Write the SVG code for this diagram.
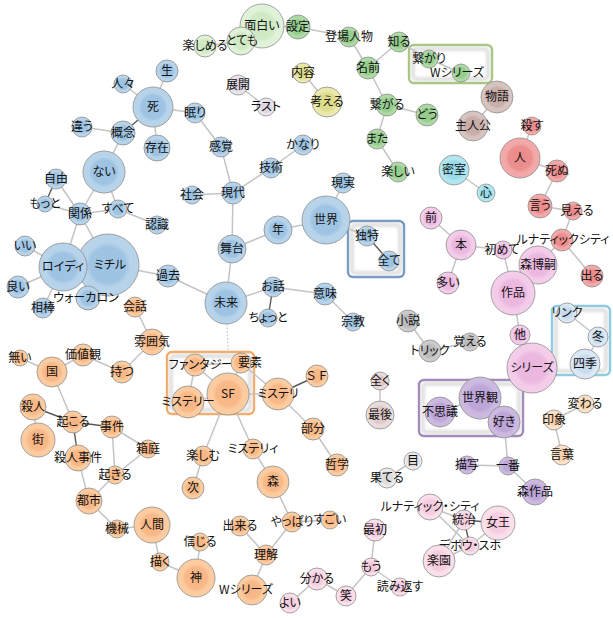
<svg xmlns="http://www.w3.org/2000/svg" width="613" height="618" viewBox="0 0 613 618">
<defs>
<radialGradient id="gBlue"><stop offset="0" stop-color="#9cc2e2"/><stop offset="0.58" stop-color="#9fc4e3"/><stop offset="0.72" stop-color="#b6d3ea"/><stop offset="1" stop-color="#b8d4eb"/></radialGradient>
<radialGradient id="gLGreen"><stop offset="0" stop-color="#cde9c2"/><stop offset="0.58" stop-color="#d0eac6"/><stop offset="0.72" stop-color="#dff2d7"/><stop offset="1" stop-color="#e0f3d8"/></radialGradient>
<radialGradient id="gGreen"><stop offset="0" stop-color="#94cc8c"/><stop offset="0.58" stop-color="#98ce90"/><stop offset="0.72" stop-color="#abd9a3"/><stop offset="1" stop-color="#add9a5"/></radialGradient>
<radialGradient id="gYellow"><stop offset="0" stop-color="#dcdc88"/><stop offset="0.58" stop-color="#dedd8e"/><stop offset="0.72" stop-color="#eae8aa"/><stop offset="1" stop-color="#ebe9ad"/></radialGradient>
<radialGradient id="gLav"><stop offset="0" stop-color="#ddd4e0"/><stop offset="0.58" stop-color="#dfd7e2"/><stop offset="0.72" stop-color="#e9e3eb"/><stop offset="1" stop-color="#ebe5ed"/></radialGradient>
<radialGradient id="gBrown"><stop offset="0" stop-color="#c6aaa6"/><stop offset="0.58" stop-color="#c9aeaa"/><stop offset="0.72" stop-color="#d6c2be"/><stop offset="1" stop-color="#d8c5c1"/></radialGradient>
<radialGradient id="gRed"><stop offset="0" stop-color="#ea8a8a"/><stop offset="0.58" stop-color="#ec8f8f"/><stop offset="0.72" stop-color="#f2a7a7"/><stop offset="1" stop-color="#f3aaaa"/></radialGradient>
<radialGradient id="gCyan"><stop offset="0" stop-color="#96dae8"/><stop offset="0.58" stop-color="#9cdcea"/><stop offset="0.72" stop-color="#b0e6f0"/><stop offset="1" stop-color="#b3e7f1"/></radialGradient>
<radialGradient id="gPink"><stop offset="0" stop-color="#eab4de"/><stop offset="0.58" stop-color="#ecb9e0"/><stop offset="0.72" stop-color="#f3cbe9"/><stop offset="1" stop-color="#f4ceea"/></radialGradient>
<radialGradient id="gLBlue"><stop offset="0" stop-color="#c6daee"/><stop offset="0.58" stop-color="#c9dcef"/><stop offset="0.72" stop-color="#dae7f5"/><stop offset="1" stop-color="#dce8f5"/></radialGradient>
<radialGradient id="gGray"><stop offset="0" stop-color="#b8b8b8"/><stop offset="0.58" stop-color="#bcbcbc"/><stop offset="0.72" stop-color="#cbcbcb"/><stop offset="1" stop-color="#cdcdcd"/></radialGradient>
<radialGradient id="gBeige"><stop offset="0" stop-color="#dcc6c6"/><stop offset="0.58" stop-color="#dfcaca"/><stop offset="0.72" stop-color="#eadbdb"/><stop offset="1" stop-color="#ebdddd"/></radialGradient>
<radialGradient id="gPurple"><stop offset="0" stop-color="#baa2d6"/><stop offset="0.58" stop-color="#bea7d8"/><stop offset="0.72" stop-color="#cbb8e0"/><stop offset="1" stop-color="#cdbbe1"/></radialGradient>
<radialGradient id="gOrange"><stop offset="0" stop-color="#f8b583"/><stop offset="0.58" stop-color="#f9b988"/><stop offset="0.72" stop-color="#fccb9f"/><stop offset="1" stop-color="#fccda2"/></radialGradient>
<radialGradient id="gPeach"><stop offset="0" stop-color="#fad2ae"/><stop offset="0.58" stop-color="#fbd5b3"/><stop offset="0.72" stop-color="#fde1c8"/><stop offset="1" stop-color="#fde3cb"/></radialGradient>
<radialGradient id="gLGray"><stop offset="0" stop-color="#dcdcdc"/><stop offset="0.58" stop-color="#dedede"/><stop offset="0.72" stop-color="#eaeaea"/><stop offset="1" stop-color="#ececec"/></radialGradient>
<radialGradient id="gLPink"><stop offset="0" stop-color="#f5cade"/><stop offset="0.58" stop-color="#f6cee1"/><stop offset="0.72" stop-color="#fadeea"/><stop offset="1" stop-color="#fbe0ec"/></radialGradient>
<filter id="blur" x="-20%" y="-20%" width="140%" height="140%"><feGaussianBlur stdDeviation="1.6"/></filter>
</defs>
<style>
circle{stroke:#8f8f8f;stroke-width:1;stroke-opacity:0.8}
.blue{fill:url(#gBlue)}.lgreen{fill:url(#gLGreen)}.green{fill:url(#gGreen)}.yellow{fill:url(#gYellow)}
.lav{fill:url(#gLav)}.brown{fill:url(#gBrown)}.red{fill:url(#gRed)}.cyan{fill:url(#gCyan)}
.pink{fill:url(#gPink)}.lblue{fill:url(#gLBlue)}.gray{fill:url(#gGray)}.beige{fill:url(#gBeige)}
.purple{fill:url(#gPurple)}.orange{fill:url(#gOrange)}.peach{fill:url(#gPeach)}.lgray{fill:url(#gLGray)}.lpink{fill:url(#gLPink)}
text{font-family:"Noto Sans CJK JP","Noto Sans",sans-serif;font-size:12px;fill:#111;text-anchor:middle;font-feature-settings:"palt" 1}
text.fw{font-feature-settings:normal}
#edges line{stroke:#c4c4c4;stroke-width:1.5}
#edges line.d{stroke:#5a5a5a;stroke-width:1.4}
#edges line.dot{stroke:#c8c8c8;stroke-width:1.3;stroke-dasharray:1.5 2}
.box{fill:#fff;stroke-width:2.4}
.bsh{fill:none;stroke:#dcdcdc;stroke-width:3.5;filter:url(#blur)}
</style>
<rect width="613" height="618" fill="#fff"/>
<g id="boxes">
<rect class="box" x="409" y="45" width="83" height="38" rx="5" stroke="#a6c67e"/><rect class="bsh" x="413" y="49" width="75" height="30" rx="3"/>
<rect class="box" x="348" y="221" width="56" height="56" rx="5" stroke="#7398c0"/><rect class="bsh" x="352" y="225" width="48" height="48" rx="3"/>
<rect class="box" x="167" y="352" width="87" height="62" rx="5" stroke="#f4aa66"/><rect class="bsh" x="171" y="356" width="79" height="54" rx="3"/>
<rect class="box" x="552" y="306" width="58" height="69" rx="5" stroke="#8ccae2"/><rect class="bsh" x="556" y="310" width="50" height="61" rx="3"/>
<rect class="box" x="419" y="380" width="104" height="56" rx="5" stroke="#9e86ba"/><rect class="bsh" x="423" y="384" width="96" height="48" rx="3"/>
</g>
<g id="edges">
<line x1="205" y1="46" x2="241" y2="41"/><line x1="241" y1="41" x2="262" y2="26"/><line x1="262" y1="26" x2="298" y2="27"/>
<line x1="298" y1="27" x2="349" y2="37"/><line x1="349" y1="37" x2="368" y2="68"/><line x1="368" y1="68" x2="399" y2="42"/>
<line x1="368" y1="68" x2="387" y2="105"/><line x1="387" y1="105" x2="377" y2="139"/><line x1="387" y1="105" x2="427" y2="115"/>
<line x1="377" y1="139" x2="398" y2="172"/><line x1="399" y1="42" x2="429" y2="59"/><line x1="429" y1="59" x2="461" y2="73"/>
<line x1="303" y1="73" x2="327" y2="102"/><line x1="238" y1="85" x2="266" y2="107"/><line x1="497" y1="97" x2="473" y2="126"/>
<line x1="532" y1="126" x2="520" y2="158"/><line x1="520" y1="158" x2="557" y2="171"/><line x1="557" y1="171" x2="540" y2="206"/>
<line x1="540" y1="206" x2="573" y2="211"/><line x1="573" y1="211" x2="562" y2="240"/><line x1="562" y1="240" x2="592" y2="276"/>
<line x1="562" y1="240" x2="538" y2="265"/>
<line x1="454" y1="170" x2="486" y2="193"/><line x1="431" y1="218" x2="461" y2="245"/><line x1="461" y1="245" x2="448" y2="283"/>
<line x1="461" y1="245" x2="503" y2="250"/><line x1="503" y1="250" x2="513" y2="293"/><line x1="513" y1="293" x2="520" y2="335"/>
<line x1="520" y1="335" x2="532" y2="368"/><line x1="567" y1="313" x2="598" y2="337"/><line x1="598" y1="337" x2="585" y2="364"/>
<line x1="480" y1="398" x2="440" y2="412"/><line x1="480" y1="398" x2="504" y2="422"/><line x1="504" y1="422" x2="508" y2="466"/>
<line x1="467" y1="465" x2="508" y2="466"/><line x1="508" y1="466" x2="535" y2="492"/><line x1="554" y1="420" x2="585" y2="404"/>
<line x1="554" y1="420" x2="562" y2="455"/><line x1="408" y1="321" x2="430" y2="351"/><line x1="430" y1="351" x2="470" y2="342"/>
<line x1="380" y1="381" x2="380" y2="415"/><line x1="413" y1="461" x2="387" y2="478"/>
<line x1="430" y1="507" x2="464" y2="520"/><line x1="430" y1="507" x2="470" y2="546"/><line x1="464" y1="520" x2="439" y2="561"/>
<line class="d" x1="464" y1="520" x2="498" y2="523"/><line class="d" x1="464" y1="520" x2="470" y2="546"/><line x1="498" y1="523" x2="470" y2="546"/>
<line x1="470" y1="546" x2="439" y2="561"/><line x1="375" y1="530" x2="371" y2="567"/><line x1="371" y1="567" x2="400" y2="587"/>
<line x1="371" y1="567" x2="346" y2="596"/><line x1="346" y1="596" x2="317" y2="579"/><line x1="317" y1="579" x2="290" y2="603"/>
<line x1="123" y1="84" x2="153" y2="107"/><line x1="167" y1="71" x2="153" y2="107"/><line x1="153" y1="107" x2="195" y2="113"/>
<line class="d" x1="153" y1="107" x2="123" y2="133"/><line x1="153" y1="107" x2="157" y2="148"/><line x1="82" y1="127" x2="123" y2="133"/>
<line x1="123" y1="133" x2="104" y2="172"/><line x1="195" y1="113" x2="221" y2="147"/><line x1="221" y1="147" x2="233" y2="193"/>
<line x1="233" y1="193" x2="192" y2="195"/><line x1="233" y1="193" x2="271" y2="168"/><line x1="271" y1="168" x2="303" y2="145"/>
<line x1="233" y1="193" x2="232" y2="249"/><line x1="232" y1="249" x2="278" y2="230"/><line x1="278" y1="230" x2="326" y2="220"/>
<line x1="326" y1="220" x2="343" y2="183"/><line x1="326" y1="220" x2="367" y2="236"/><line class="d" x1="367" y1="236" x2="389" y2="261"/>
<line x1="232" y1="249" x2="226" y2="303"/><line x1="226" y1="303" x2="273" y2="287"/><line class="d" x1="273" y1="287" x2="268" y2="318"/>
<line x1="273" y1="287" x2="325" y2="294"/><line x1="325" y1="294" x2="353" y2="322"/><line x1="226" y1="303" x2="168" y2="276"/>
<line x1="168" y1="276" x2="108" y2="265"/><line x1="104" y1="172" x2="80" y2="214"/><line x1="104" y1="172" x2="118" y2="209"/>
<line x1="56" y1="179" x2="80" y2="214"/><line class="d" x1="56" y1="179" x2="45" y2="204"/><line x1="45" y1="204" x2="80" y2="214"/>
<line x1="80" y1="214" x2="118" y2="209"/><line x1="118" y1="209" x2="157" y2="225"/><line x1="80" y1="214" x2="108" y2="265"/>
<line x1="80" y1="214" x2="63" y2="267"/><line x1="63" y1="267" x2="25" y2="246"/><line x1="63" y1="267" x2="18" y2="287"/>
<line x1="63" y1="267" x2="43" y2="308"/><line x1="63" y1="267" x2="108" y2="265"/><line x1="108" y1="265" x2="85" y2="298"/>
<line x1="135" y1="307" x2="152" y2="342"/><line x1="152" y1="342" x2="122" y2="372"/><line x1="122" y1="372" x2="83" y2="355"/>
<line x1="83" y1="355" x2="52" y2="372"/><line x1="52" y1="372" x2="20" y2="358"/><line x1="52" y1="372" x2="73" y2="422"/>
<line class="d" x1="33" y1="407" x2="73" y2="422"/><line x1="33" y1="407" x2="38" y2="440"/><line class="d" x1="73" y1="422" x2="112" y2="427"/>
<line class="d" x1="73" y1="422" x2="78" y2="458"/><line x1="112" y1="427" x2="148" y2="449"/><line x1="112" y1="427" x2="115" y2="475"/>
<line x1="148" y1="449" x2="115" y2="475"/><line x1="78" y1="458" x2="89" y2="501"/><line x1="115" y1="475" x2="89" y2="501"/>
<line x1="89" y1="501" x2="117" y2="529"/><line x1="117" y1="529" x2="152" y2="525"/><line x1="152" y1="525" x2="160" y2="562"/>
<line x1="160" y1="562" x2="196" y2="578"/><line x1="196" y1="578" x2="200" y2="542"/><line x1="203" y1="456" x2="193" y2="488"/>
<line x1="228" y1="394" x2="203" y2="456"/><line x1="228" y1="394" x2="253" y2="449"/><line x1="253" y1="449" x2="273" y2="482"/>
<line x1="273" y1="482" x2="292" y2="522"/><line x1="292" y1="522" x2="330" y2="520"/><line x1="292" y1="522" x2="266" y2="555"/>
<line x1="240" y1="526" x2="266" y2="555"/><line x1="266" y1="555" x2="252" y2="590"/><line x1="228" y1="394" x2="278" y2="394"/>
<line class="d" x1="278" y1="394" x2="317" y2="376"/><line x1="278" y1="394" x2="313" y2="429"/><line x1="313" y1="429" x2="337" y2="465"/>
<line x1="241" y1="363" x2="278" y2="394"/><line x1="228" y1="394" x2="241" y2="363"/><line x1="228" y1="394" x2="195" y2="365"/>
<line x1="228" y1="394" x2="188" y2="402"/><line x1="195" y1="365" x2="188" y2="402"/><line x1="195" y1="365" x2="241" y2="363"/>
<line class="dot" x1="227" y1="324" x2="228" y2="352"/>
</g>
<g id="n-omoshiroi"><circle class="lgreen" cx="262" cy="26" r="22"/><text x="262" y="30">面白い</text></g>
<g id="n-totemo"><circle class="lgreen" cx="241" cy="41" r="14"/><text x="242" y="45">とても</text></g>
<g id="n-tanoshimeru"><circle class="lgreen" cx="205" cy="46" r="11"/><text x="205" y="50">楽しめる</text></g>
<g id="n-settei"><circle class="green" cx="298" cy="27" r="12"/><text x="298" y="31">設定</text></g>
<g id="n-toujoujinbutsu"><circle class="green" cx="349" cy="37" r="10"/><text x="349" y="41">登場人物</text></g>
<g id="n-shiru"><circle class="green" cx="399" cy="42" r="10"/><text x="399" y="46">知る</text></g>
<g id="n-namae"><circle class="green" cx="368" cy="68" r="11"/><text x="368" y="72">名前</text></g>
<g id="n-tsunagaru"><circle class="green" cx="387" cy="105" r="11"/><text x="387" y="109">繋がる</text></g>
<g id="n-mata"><circle class="green" cx="377" cy="139" r="10"/><text x="377" y="143">また</text></g>
<g id="n-tanoshii"><circle class="green" cx="398" cy="172" r="10"/><text x="398" y="176">楽しい</text></g>
<g id="n-tsunagari"><circle class="green" cx="429" cy="59" r="9"/><text x="429" y="63">繋がり</text></g>
<g id="n-wseries-g"><circle class="green" cx="461" cy="73" r="9"/><text x="457" y="77">Wシリーズ</text></g>
<g id="n-dou"><circle class="green" cx="427" cy="115" r="11"/><text x="427" y="119">どう</text></g>
<g id="n-naiyou"><circle class="yellow" cx="303" cy="73" r="10"/><text x="303" y="77">内容</text></g>
<g id="n-kangaeru"><circle class="yellow" cx="327" cy="102" r="15"/><text x="327" y="106">考える</text></g>
<g id="n-tenkai"><circle class="lav" cx="238" cy="85" r="10"/><text x="238" y="89">展開</text></g>
<g id="n-last"><circle class="lav" cx="266" cy="107" r="9"/><text x="266" y="111">ラスト</text></g>
<g id="n-monogatari"><circle class="brown" cx="497" cy="97" r="16"/><text x="497" y="101">物語</text></g>
<g id="n-shujinkou"><circle class="brown" cx="473" cy="126" r="15"/><text x="473" y="130">主人公</text></g>
<g id="n-korosu"><circle class="red" cx="532" cy="126" r="9"/><text x="532" y="130">殺す</text></g>
<g id="n-hito"><circle class="red" cx="520" cy="158" r="20"/><text x="520" y="162">人</text></g>
<g id="n-shinu"><circle class="red" cx="557" cy="171" r="11"/><text x="557" y="175">死ぬ</text></g>
<g id="n-iu"><circle class="red" cx="540" cy="206" r="12"/><text x="540" y="210">言う</text></g>
<g id="n-mieru"><circle class="red" cx="573" cy="211" r="9"/><text x="577" y="215">見える</text></g>
<g id="n-lunaticcity"><circle class="red" cx="562" cy="240" r="11"/><text x="563" y="244">ルナティックシティ</text></g>
<g id="n-deru"><circle class="red" cx="592" cy="276" r="11"/><text x="592" y="280">出る</text></g>
<g id="n-misshitsu"><circle class="cyan" cx="454" cy="170" r="15"/><text x="454" y="174">密室</text></g>
<g id="n-kokoro"><circle class="cyan" cx="486" cy="193" r="9"/><text x="486" y="197">心</text></g>
<g id="n-mae"><circle class="pink" cx="431" cy="218" r="11"/><text x="431" y="222">前</text></g>
<g id="n-hon"><circle class="pink" cx="461" cy="245" r="15"/><text x="461" y="249">本</text></g>
<g id="n-hajimete"><circle class="pink" cx="503" cy="250" r="9"/><text x="502" y="254">初めて</text></g>
<g id="n-morihiroshi"><circle class="pink" cx="538" cy="265" r="19"/><text x="538" y="269">森博嗣</text></g>
<g id="n-ooi"><circle class="pink" cx="448" cy="283" r="11"/><text x="448" y="287">多い</text></g>
<g id="n-sakuhin"><circle class="pink" cx="513" cy="293" r="22"/><text x="513" y="297">作品</text></g>
<g id="n-hoka"><circle class="pink" cx="520" cy="335" r="10"/><text x="520" y="339">他</text></g>
<g id="n-series"><circle class="pink" cx="532" cy="368" r="25"/><text x="532" y="372">シリーズ</text></g>
<g id="n-link"><circle class="lblue" cx="567" cy="313" r="10"/><text x="567" y="317">リンク</text></g>
<g id="n-fuyu"><circle class="lblue" cx="598" cy="337" r="10"/><text x="598" y="341">冬</text></g>
<g id="n-shiki"><circle class="lblue" cx="585" cy="364" r="15"/><text x="585" y="368">四季</text></g>
<g id="n-sekaikan"><circle class="purple" cx="480" cy="398" r="21"/><text x="480" y="402">世界観</text></g>
<g id="n-fushigi"><circle class="purple" cx="440" cy="412" r="15"/><text x="440" y="416">不思議</text></g>
<g id="n-suki"><circle class="purple" cx="504" cy="422" r="16"/><text x="504" y="426">好き</text></g>
<g id="n-kawaru"><circle class="peach" cx="585" cy="404" r="9"/><text x="585" y="408">変わる</text></g>
<g id="n-inshou"><circle class="peach" cx="554" cy="420" r="10"/><text x="554" y="424">印象</text></g>
<g id="n-kotoba"><circle class="peach" cx="562" cy="455" r="10"/><text x="562" y="459">言葉</text></g>
<g id="n-mattaku"><circle class="beige" cx="380" cy="381" r="9"/><text x="380" y="385">全く</text></g>
<g id="n-saigo"><circle class="beige" cx="380" cy="415" r="14"/><text x="380" y="419">最後</text></g>
<g id="n-me"><circle class="lgray" cx="413" cy="461" r="9"/><text x="413" y="465">目</text></g>
<g id="n-hateru"><circle class="lgray" cx="387" cy="478" r="10"/><text x="387" y="482">果てる</text></g>
<g id="n-byousha"><circle class="purple" cx="467" cy="465" r="9"/><text x="467" y="469">描写</text></g>
<g id="n-ichiban"><circle class="purple" cx="508" cy="466" r="9"/><text x="508" y="470">一番</text></g>
<g id="n-morisakuhin"><circle class="purple" cx="535" cy="492" r="13"/><text x="535" y="496">森作品</text></g>
<g id="n-shousetsu"><circle class="gray" cx="408" cy="321" r="11"/><text x="408" y="325">小説</text></g>
<g id="n-trick"><circle class="gray" cx="430" cy="351" r="11"/><text x="430" y="355">トリック</text></g>
<g id="n-oboeru"><circle class="gray" cx="470" cy="342" r="9"/><text x="470" y="346">覚える</text></g>
<g id="n-lunatic-city"><circle class="lpink" cx="430" cy="507" r="13"/><text x="430" y="511">ルナティック・シティ</text></g>
<g id="n-touchi"><circle class="lpink" cx="464" cy="520" r="10"/><text x="464" y="524">統治</text></g>
<g id="n-joou"><circle class="lpink" cx="498" cy="523" r="17"/><text x="498" y="527">女王</text></g>
<g id="n-debou"><circle class="lpink" cx="470" cy="546" r="9"/><text x="470" y="550">デボウ・スホ</text></g>
<g id="n-rakuen"><circle class="lpink" cx="439" cy="561" r="16"/><text x="439" y="565">楽園</text></g>
<g id="n-saisho"><circle class="lpink" cx="375" cy="530" r="11"/><text x="375" y="534">最初</text></g>
<g id="n-mou"><circle class="lpink" cx="371" cy="567" r="9"/><text x="371" y="571">もう</text></g>
<g id="n-yomikaesu"><circle class="lpink" cx="400" cy="587" r="9"/><text x="400" y="591">読み返す</text></g>
<g id="n-wakaru"><circle class="lpink" cx="317" cy="579" r="11"/><text x="317" y="583">分かる</text></g>
<g id="n-yoi"><circle class="lpink" cx="290" cy="603" r="10"/><text x="290" y="607">よい</text></g>
<g id="n-warau"><circle class="lpink" cx="346" cy="596" r="10"/><text x="346" y="600">笑</text></g>
<g id="n-sei"><circle class="blue" cx="167" cy="71" r="11"/><text x="167" y="75">生</text></g>
<g id="n-hitobito"><circle class="blue" cx="123" cy="84" r="9"/><text x="123" y="88">人々</text></g>
<g id="n-shi"><circle class="blue" cx="153" cy="107" r="20"/><text x="153" y="111">死</text></g>
<g id="n-nemuri"><circle class="blue" cx="195" cy="113" r="10"/><text x="195" y="117">眠り</text></g>
<g id="n-chigau"><circle class="blue" cx="82" cy="127" r="10"/><text x="82" y="131">違う</text></g>
<g id="n-gainen"><circle class="blue" cx="123" cy="133" r="12"/><text x="123" y="137">概念</text></g>
<g id="n-sonzai"><circle class="blue" cx="157" cy="148" r="13"/><text x="157" y="152">存在</text></g>
<g id="n-nai"><circle class="blue" cx="104" cy="172" r="21"/><text x="104" y="176">ない</text></g>
<g id="n-jiyuu"><circle class="blue" cx="56" cy="179" r="10"/><text x="56" y="183">自由</text></g>
<g id="n-motto"><circle class="blue" cx="45" cy="204" r="8"/><text x="45" y="208">もっと</text></g>
<g id="n-kankei"><circle class="blue" cx="80" cy="214" r="11"/><text x="80" y="218">関係</text></g>
<g id="n-subete"><circle class="blue" cx="118" cy="209" r="9"/><text x="118" y="213">すべて</text></g>
<g id="n-ninshiki"><circle class="blue" cx="157" cy="225" r="9"/><text x="157" y="229">認識</text></g>
<g id="n-shakai"><circle class="blue" cx="192" cy="195" r="9"/><text x="192" y="199">社会</text></g>
<g id="n-ii"><circle class="blue" cx="25" cy="246" r="10"/><text x="25" y="250">いい</text></g>
<g id="n-michiru"><circle class="blue" cx="108" cy="265" r="31"/><text x="110" y="269">ミチル</text></g>
<g id="n-roidi"><circle class="blue" cx="63" cy="267" r="24"/><text x="63" y="271">ロイディ</text></g>
<g id="n-yoi2"><circle class="blue" cx="18" cy="287" r="11"/><text x="18" y="291">良い</text></g>
<g id="n-aibou"><circle class="blue" cx="43" cy="308" r="10"/><text x="43" y="312">相棒</text></g>
<g id="n-walkalon"><circle class="blue" cx="88" cy="298" r="12"/><text x="86" y="302">ウォーカロン</text></g>
<g id="n-kako"><circle class="blue" cx="168" cy="276" r="11"/><text x="168" y="280">過去</text></g>
<g id="n-kankaku"><circle class="blue" cx="221" cy="147" r="10"/><text x="221" y="151">感覚</text></g>
<g id="n-kanari"><circle class="blue" cx="303" cy="145" r="10"/><text x="303" y="149">かなり</text></g>
<g id="n-gijutsu"><circle class="blue" cx="271" cy="168" r="10"/><text x="271" y="172">技術</text></g>
<g id="n-gendai"><circle class="blue" cx="233" cy="193" r="11"/><text x="233" y="197">現代</text></g>
<g id="n-genjitsu"><circle class="blue" cx="343" cy="183" r="10"/><text x="343" y="187">現実</text></g>
<g id="n-sekai"><circle class="blue" cx="326" cy="220" r="24"/><text x="326" y="224">世界</text></g>
<g id="n-toshi"><circle class="blue" cx="278" cy="230" r="14"/><text x="278" y="234">年</text></g>
<g id="n-butai"><circle class="blue" cx="232" cy="249" r="14"/><text x="232" y="253">舞台</text></g>
<g id="n-dokutoku"><circle class="blue" cx="367" cy="236" r="10"/><text x="367" y="240">独特</text></g>
<g id="n-subete2"><circle class="blue" cx="389" cy="261" r="10"/><text x="389" y="265">全て</text></g>
<g id="n-ohanashi"><circle class="blue" cx="273" cy="287" r="10"/><text x="273" y="291">お話</text></g>
<g id="n-imi"><circle class="blue" cx="325" cy="294" r="11"/><text x="325" y="298">意味</text></g>
<g id="n-mirai"><circle class="blue" cx="226" cy="303" r="21"/><text x="226" y="307">未来</text></g>
<g id="n-chotto"><circle class="blue" cx="268" cy="318" r="9"/><text x="268" y="322">ちょっと</text></g>
<g id="n-shuukyou"><circle class="blue" cx="353" cy="322" r="9"/><text x="353" y="326">宗教</text></g>
<g id="n-kaiwa"><circle class="orange" cx="135" cy="307" r="10"/><text x="135" y="311">会話</text></g>
<g id="n-funiki"><circle class="orange" cx="152" cy="342" r="13"/><text x="152" y="346">雰囲気</text></g>
<g id="n-kachikan"><circle class="orange" cx="83" cy="355" r="11"/><text x="83" y="359">価値観</text></g>
<g id="n-nai2"><circle class="orange" cx="20" cy="358" r="8"/><text x="20" y="362">無い</text></g>
<g id="n-kuni"><circle class="orange" cx="52" cy="372" r="15"/><text x="52" y="376">国</text></g>
<g id="n-motsu"><circle class="orange" cx="122" cy="372" r="11"/><text x="122" y="376">持つ</text></g>
<g id="n-satsujin"><circle class="orange" cx="33" cy="407" r="13"/><text x="33" y="411">殺人</text></g>
<g id="n-machi"><circle class="orange" cx="38" cy="440" r="17"/><text x="38" y="444">街</text></g>
<g id="n-okoru"><circle class="orange" cx="73" cy="422" r="11"/><text x="73" y="426">起こる</text></g>
<g id="n-jiken"><circle class="orange" cx="112" cy="427" r="11"/><text x="112" y="431">事件</text></g>
<g id="n-hakoniwa"><circle class="orange" cx="148" cy="449" r="9"/><text x="148" y="453">箱庭</text></g>
<g id="n-satsujinjiken"><circle class="orange" cx="78" cy="458" r="13"/><text x="78" y="462">殺人事件</text></g>
<g id="n-okiru"><circle class="orange" cx="115" cy="475" r="9"/><text x="115" y="479">起きる</text></g>
<g id="n-toshi2"><circle class="orange" cx="89" cy="501" r="13"/><text x="89" y="505">都市</text></g>
<g id="n-kikai"><circle class="orange" cx="117" cy="529" r="9"/><text x="117" y="533">機械</text></g>
<g id="n-ningen"><circle class="orange" cx="152" cy="525" r="18"/><text x="152" y="529">人間</text></g>
<g id="n-egaku"><circle class="orange" cx="160" cy="562" r="9"/><text x="160" y="566">描く</text></g>
<g id="n-kami"><circle class="orange" cx="196" cy="578" r="19"/><text x="196" y="582">神</text></g>
<g id="n-shinjiru"><circle class="orange" cx="200" cy="542" r="9"/><text x="200" y="546">信じる</text></g>
<g id="n-tsugi"><circle class="orange" cx="193" cy="488" r="11"/><text x="193" y="492">次</text></g>
<g id="n-tanoshimu"><circle class="orange" cx="203" cy="456" r="10"/><text x="203" y="460">楽しむ</text></g>
<g id="n-fantasy"><circle class="orange" cx="195" cy="365" r="11"/><text x="201" y="369">ファンタジー</text></g>
<g id="n-youso"><circle class="orange" cx="241" cy="363" r="10"/><text x="250" y="367">要素</text></g>
<g id="n-sf"><circle class="orange" cx="228" cy="394" r="21"/><text x="228" y="398">SF</text></g>
<g id="n-mystery"><circle class="orange" cx="188" cy="402" r="16"/><text x="188" y="406">ミステリー</text></g>
<g id="n-mysteri"><circle class="orange" cx="278" cy="394" r="16"/><text x="278" y="398">ミステリ</text></g>
<g id="n-sf2"><circle class="orange" cx="317" cy="376" r="11"/><text class="fw" x="317" y="380">ＳＦ</text></g>
<g id="n-bubun"><circle class="orange" cx="313" cy="429" r="11"/><text x="313" y="433">部分</text></g>
<g id="n-tetsugaku"><circle class="orange" cx="337" cy="465" r="11"/><text x="337" y="469">哲学</text></g>
<g id="n-mysteryi"><circle class="orange" cx="253" cy="449" r="10"/><text x="253" y="453">ミステリィ</text></g>
<g id="n-mori"><circle class="orange" cx="273" cy="482" r="16"/><text x="273" y="486">森</text></g>
<g id="n-yappari"><circle class="orange" cx="292" cy="522" r="10"/><text x="292" y="526">やっぱり</text></g>
<g id="n-sugoi"><circle class="orange" cx="330" cy="520" r="9"/><text x="330" y="524">すごい</text></g>
<g id="n-dekiru"><circle class="orange" cx="240" cy="526" r="10"/><text x="240" y="530">出来る</text></g>
<g id="n-rikai"><circle class="orange" cx="266" cy="555" r="10"/><text x="266" y="559">理解</text></g>
<g id="n-wseries-o"><circle class="orange" cx="252" cy="590" r="15"/><text x="246" y="594">Wシリーズ</text></g>
</svg>
